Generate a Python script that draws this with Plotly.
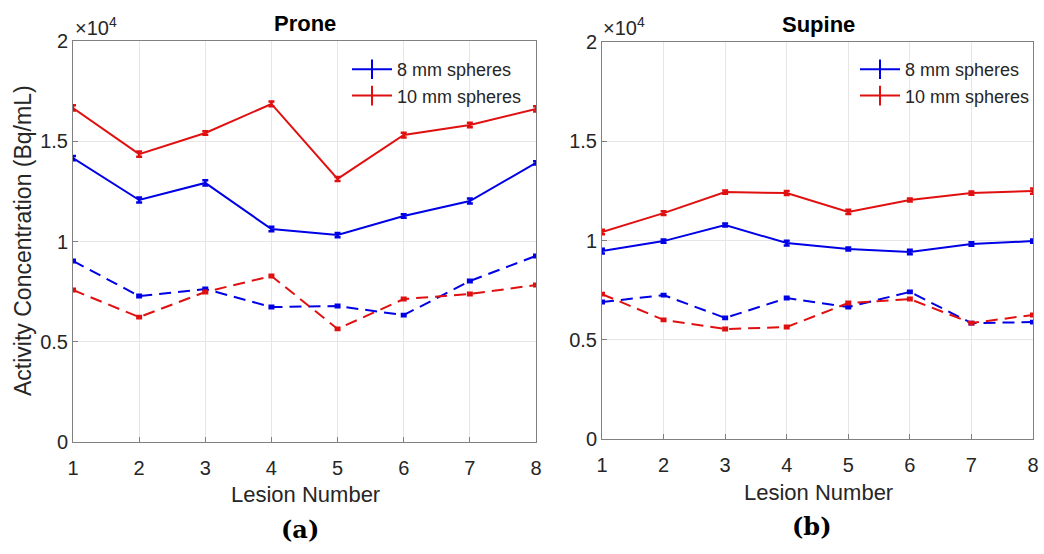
import plotly.graph_objects as go

lesions = [1, 2, 3, 4, 5, 6, 7, 8]

# Prone (a)
prone_8_solid = [14160, 12070, 12920, 10620, 10320, 11270, 12020, 13920]
prone_8_solid_err = [110, 130, 130, 110, 110, 90, 120, 80]
prone_10_solid = [16660, 14360, 15410, 16860, 13120, 15310, 15810, 16610]
prone_10_solid_err = [130, 130, 90, 120, 100, 120, 110, 130]
prone_8_dash = [9030, 7280, 7630, 6730, 6780, 6330, 8030, 9280]
prone_10_dash = [7580, 6230, 7480, 8280, 5640, 7130, 7380, 7830]
dash_err = [60, 60, 60, 60, 60, 60, 60, 60]

# Supine (b)
supine_8_solid = [9470, 9970, 10780, 9870, 9570, 9420, 9820, 9970]
supine_8_solid_err = [120, 80, 80, 120, 80, 110, 90, 80]
supine_10_solid = [10430, 11380, 12440, 12390, 11440, 12040, 12390, 12490]
supine_10_solid_err = [110, 90, 80, 100, 110, 80, 80, 130]
supine_8_dash = [6900, 7250, 6100, 7100, 6650, 7410, 5840, 5890]
supine_10_dash = [7300, 6000, 5540, 5640, 6850, 7050, 5840, 6250]

y_tickvals = [0, 5000, 10000, 15000, 20000]
y_ticktext = ["0", "0.5", "1", "1.5", "2"]

BLUE = "#0000E6"
RED = "#E01010"
FONT = "Liberation Sans, Arial, sans-serif"
TXT = "#262626"

fig = go.Figure()

def add_series(xa, ya, y, err, color, dash):
    fig.add_trace(go.Scatter(
        x=lesions, y=y, mode="lines", xaxis=xa, yaxis=ya,
        line=dict(color=color, width=2, dash=dash),
        error_y=dict(type="data", array=err, color=color, thickness=2.5, width=3),
        showlegend=False, hoverinfo="skip"))

DASH = "12px,7px"
add_series("x", "y", prone_8_solid, prone_8_solid_err, BLUE, "solid")
add_series("x", "y", prone_10_solid, prone_10_solid_err, RED, "solid")
add_series("x", "y", prone_8_dash, dash_err, BLUE, DASH)
add_series("x", "y", prone_10_dash, dash_err, RED, DASH)

add_series("x2", "y2", supine_8_solid, supine_8_solid_err, BLUE, "solid")
add_series("x2", "y2", supine_10_solid, supine_10_solid_err, RED, "solid")
add_series("x2", "y2", supine_8_dash, dash_err, BLUE, DASH)
add_series("x2", "y2", supine_10_dash, dash_err, RED, DASH)

# legend entries
for lg, xa, ya in [("legend", "x", "y"), ("legend2", "x2", "y2")]:
    for name, color in [("8 mm spheres", BLUE), ("10 mm spheres", RED)]:
        fig.add_trace(go.Scatter(
            x=[None], y=[None], mode="lines+markers", name=name, xaxis=xa, yaxis=ya,
            line=dict(color=color, width=2),
            marker=dict(symbol="line-ns-open", size=14, color=color,
                        line=dict(color=color, width=2)),
            legend=lg))

axis_common = dict(
    showline=True, mirror=True, linecolor="#808080", linewidth=1,
    showgrid=True, gridcolor="#E6E6E6", gridwidth=1, automargin=False,
    zeroline=False, ticks="inside", ticklen=5, tickcolor="#808080",
    tickfont=dict(family=FONT, size=20, color=TXT),
)

fig.update_layout(
    width=1044, height=554,
    margin=dict(l=0, r=0, t=0, b=0),
    paper_bgcolor="white", plot_bgcolor="white",
    xaxis=dict(domain=[73/1044, 536/1044], range=[1, 8], tickvals=lesions,
               anchor="y", ticklabelstandoff=8, **axis_common),
    yaxis=dict(domain=[1-442/554, 1-41/554], range=[0, 20000], tickvals=y_tickvals,
               ticktext=y_ticktext, anchor="x", **axis_common),
    xaxis2=dict(domain=[602/1044, 1033/1044], range=[1, 8], tickvals=lesions,
                anchor="y2", ticklabelstandoff=8, **axis_common),
    yaxis2=dict(domain=[1-439/554, 1-42/554], range=[0, 20000], tickvals=y_tickvals,
                ticktext=y_ticktext, anchor="x2", **axis_common),
    legend=dict(x=347/1044, y=1-51/554, xanchor="left", yanchor="top",
                bgcolor="rgba(0,0,0,0)", font=dict(family=FONT, size=18, color=TXT),
                itemwidth=40, tracegroupgap=0),
    legend2=dict(x=855/1044, y=1-51/554, xanchor="left", yanchor="top",
                 bgcolor="rgba(0,0,0,0)", font=dict(family=FONT, size=18, color=TXT),
                 itemwidth=40, tracegroupgap=0),
)

def note(text, x, y, size, family=FONT, color=TXT, xanchor="center", angle=0):
    return dict(text=text, x=x/1044, y=1-y/554, xref="paper", yref="paper",
                xanchor=xanchor, yanchor="middle", textangle=angle, showarrow=False,
                font=dict(family=family, size=size, color=color))

ann = [
    note("<b>Prone</b>", 305, 23, 22, color="black"),
    note("<b>Supine</b>", 818, 25, 22, color="black"),
    note("×10<sup>4</sup>", 73, 26, 20, xanchor="left"),
    note("×10<sup>4</sup>", 601, 26, 20, xanchor="left"),
    note("Activity Concentration (Bq/mL)", 23, 241, 23, angle=-90),
    note("Lesion Number", 305, 494, 22),
    note("Lesion Number", 818, 492, 22),
    note("<b>(a)</b>", 300, 529, 24, family="DejaVu Serif", color="black"),
    note("<b>(b)</b>", 812, 526, 24, family="DejaVu Serif", color="black"),
]
fig.update_layout(annotations=ann)

fig.write_html("out.html")
